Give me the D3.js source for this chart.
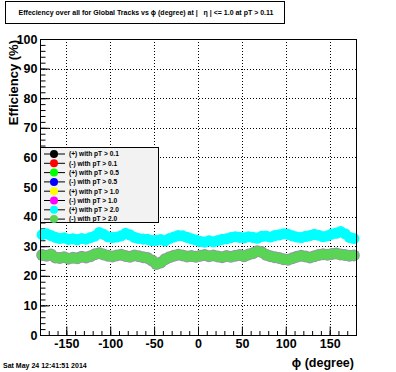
<!DOCTYPE html>
<html><head><meta charset="utf-8">
<script src="https://cdn.jsdelivr.net/npm/d3@7"></script>
<style>body{margin:0;background:#fff}svg{display:block}text{font-family:"Liberation Sans",Arial,sans-serif;font-weight:bold}</style>
</head><body><div id="c"></div>
<script>
// ---- data ----
const phiBins = [-177.5,-172.5,-167.5,-162.5,-157.5,-152.5,-147.5,-142.5,-137.5,-132.5,-127.5,-122.5,-117.5,-112.5,-107.5,-102.5,-97.5,-92.5,-87.5,-82.5,-77.5,-72.5,-67.5,-62.5,-57.5,-52.5,-47.5,-42.5,-37.5,-32.5,-27.5,-22.5,-17.5,-12.5,-7.5,-2.5,2.5,7.5,12.5,17.5,22.5,27.5,32.5,37.5,42.5,47.5,52.5,57.5,62.5,67.5,72.5,77.5,82.5,87.5,92.5,97.5,102.5,107.5,112.5,117.5,122.5,127.5,132.5,137.5,142.5,147.5,152.5,157.5,162.5,167.5,172.5,177.5];
const effPlusPt20 = [33.9,34.2,33.6,33.0,32.6,32.8,32.3,32.5,32.2,32.6,32.4,32.9,33.4,34.6,34.0,33.2,32.9,33.1,33.5,34.3,33.8,33.0,32.6,32.4,32.3,31.9,32.0,32.2,31.8,32.6,33.1,33.6,33.5,33.0,32.5,32.1,31.6,31.4,31.8,31.5,31.9,32.3,32.5,32.9,33.2,33.0,32.8,33.2,33.0,32.7,33.3,33.4,33.1,33.6,33.8,34.2,34.0,33.5,33.1,32.9,33.3,33.6,34.0,33.7,33.2,33.5,34.1,34.4,34.9,34.2,33.0,32.6];
const effMinusPt20 = [27.0,26.8,27.2,26.2,26.0,26.3,25.8,26.1,25.9,26.4,26.2,26.6,27.3,27.6,27.2,26.8,26.5,26.9,27.1,26.7,26.4,26.9,26.6,26.3,26.0,25.2,24.0,24.5,25.6,26.3,26.8,27.1,26.9,26.5,26.7,26.4,26.8,27.0,26.6,26.9,26.5,26.3,26.7,26.4,26.8,27.0,26.6,27.2,27.6,28.3,28.0,27.1,26.6,26.3,26.0,25.6,25.4,25.9,26.4,26.8,26.5,26.2,26.6,27.0,27.3,27.1,27.4,27.5,27.2,27.0,26.8,26.9];
const legendLabels = ["(+) with pT > 0.1","(-) with pT > 0.1","(+) with pT > 0.5","(-) with pT > 0.5","(+) with pT > 1.0","(-) with pT > 1.0","(+) with pT > 2.0","(-) with pT > 2.0"];
const legendColors = ["#000000","#ff0000","#00ff00","#0000ff","#ffff00","#ff00ff","#00ffff","#59d454"];
const xTicks = [-150,-100,-50,0,50,100,150];
const yTicks = [0,10,20,30,40,50,60,70,80,90,100];
const titleText = "Effeciency over all for Global Tracks vs \u03d5 (degree) at |   \u03b7 | <= 1.0 at pT > 0.11";
const dateText = "Sat May 24 12:41:51 2014";

// ---- layout ----
const W=396,H=372, L=40,R=356,T=39,B=335;
const svg=d3.select("#c").append("svg").attr("width",W).attr("height",H);
const x=d3.scaleLinear().domain([-180,180]).range([L,R]);
const y=d3.scaleLinear().domain([0,100]).range([B,T]);

// grid
const g=svg.append("g");
g.selectAll(".gx").data(xTicks).join("line").attr("x1",d=>Math.round(x(d))+0.5).attr("x2",d=>Math.round(x(d))+0.5).attr("y1",T).attr("y2",B)
 .attr("stroke","#000").attr("stroke-width",1).attr("stroke-dasharray","1,2");
g.selectAll(".gy").data(yTicks.filter(d=>d>0&&d<100)).join("line").attr("y1",d=>Math.round(y(d))+0.5).attr("y2",d=>Math.round(y(d))+0.5).attr("x1",L).attr("x2",R)
 .attr("stroke","#000").attr("stroke-width",1).attr("stroke-dasharray","1,2");

// axes
const fmt=d=>String(d);
const styleAxis=s=>{s.select(".domain").remove();s.selectAll("line").attr("stroke","#000");s.selectAll("text").attr("font-size",12.5).attr("fill","#000");};
svg.append("g").attr("transform",`translate(${L+0.5},0)`).call(d3.axisLeft(y).tickValues(d3.range(0,101,2)).tickSize(-5).tickFormat("")).call(styleAxis);
svg.append("g").attr("transform",`translate(${L+0.5},0)`).call(d3.axisLeft(y).tickValues(yTicks).tickSize(-9).tickFormat(fmt).tickPadding(3)).call(styleAxis);
svg.append("g").attr("transform",`translate(0,${B+0.5})`).call(d3.axisBottom(x).tickValues(d3.range(-180,181,10)).tickSize(-4.5).tickFormat("")).call(styleAxis);
svg.append("g").attr("transform",`translate(0,${B+0.5})`).call(d3.axisBottom(x).tickValues(xTicks).tickSize(-9).tickFormat(fmt).tickPadding(4)).call(styleAxis);

// data
const dg=svg.append("g");
dg.selectAll(".c").data(phiBins).join("circle").attr("cx",d=>x(d)).attr("cy",(d,i)=>y(effPlusPt20[i])).attr("r",5.6).attr("fill","#00ffff");
dg.selectAll(".go").data(phiBins).join("circle").attr("cx",d=>x(d)).attr("cy",(d,i)=>y(effMinusPt20[i])).attr("r",6).attr("fill","#9a8fb0");
dg.selectAll(".gi").data(phiBins).join("circle").attr("cx",d=>x(d)).attr("cy",(d,i)=>y(effMinusPt20[i])).attr("r",5.2).attr("fill","#59d454");

// frame
svg.append("rect").attr("x",L+0.5).attr("y",T+0.5).attr("width",R-L).attr("height",B-T).attr("fill","none").attr("stroke","#000").attr("stroke-width",1);

// legend
const lg=svg.append("g");
lg.append("rect").attr("x",L+0.5).attr("y",147.5).attr("width",118).attr("height",75).attr("fill","#f2f2f2").attr("stroke","#000");
legendLabels.forEach((t,i)=>{
  const cy=154+i*9.3;
  lg.append("line").attr("x1",44).attr("x2",65).attr("y1",cy).attr("y2",cy).attr("stroke","#000");
  lg.append("circle").attr("cx",54).attr("cy",cy).attr("r",4).attr("fill",legendColors[i]);
  lg.append("text").attr("x",69).attr("y",cy+2.3).attr("font-size",6.6).text(t);
});

// title
svg.append("rect").attr("x",5.5).attr("y",1.5).attr("width",279).attr("height",22).attr("fill","#fff").attr("stroke","#000");
svg.append("text").attr("x",146).attr("y",15).attr("text-anchor","middle").attr("font-size",7).style("white-space","pre").text(titleText);

// axis titles
svg.append("text").attr("transform",`translate(18,${T+1}) rotate(-90)`).attr("text-anchor","end").attr("font-size",13).text("Efficiency (%)");
svg.append("text").attr("x",354).attr("y",367).attr("text-anchor","end").attr("font-size",12.5).text("\u03d5 (degree)");
svg.append("text").attr("x",3).attr("y",368).attr("font-size",7).text(dateText);
</script></body></html>
